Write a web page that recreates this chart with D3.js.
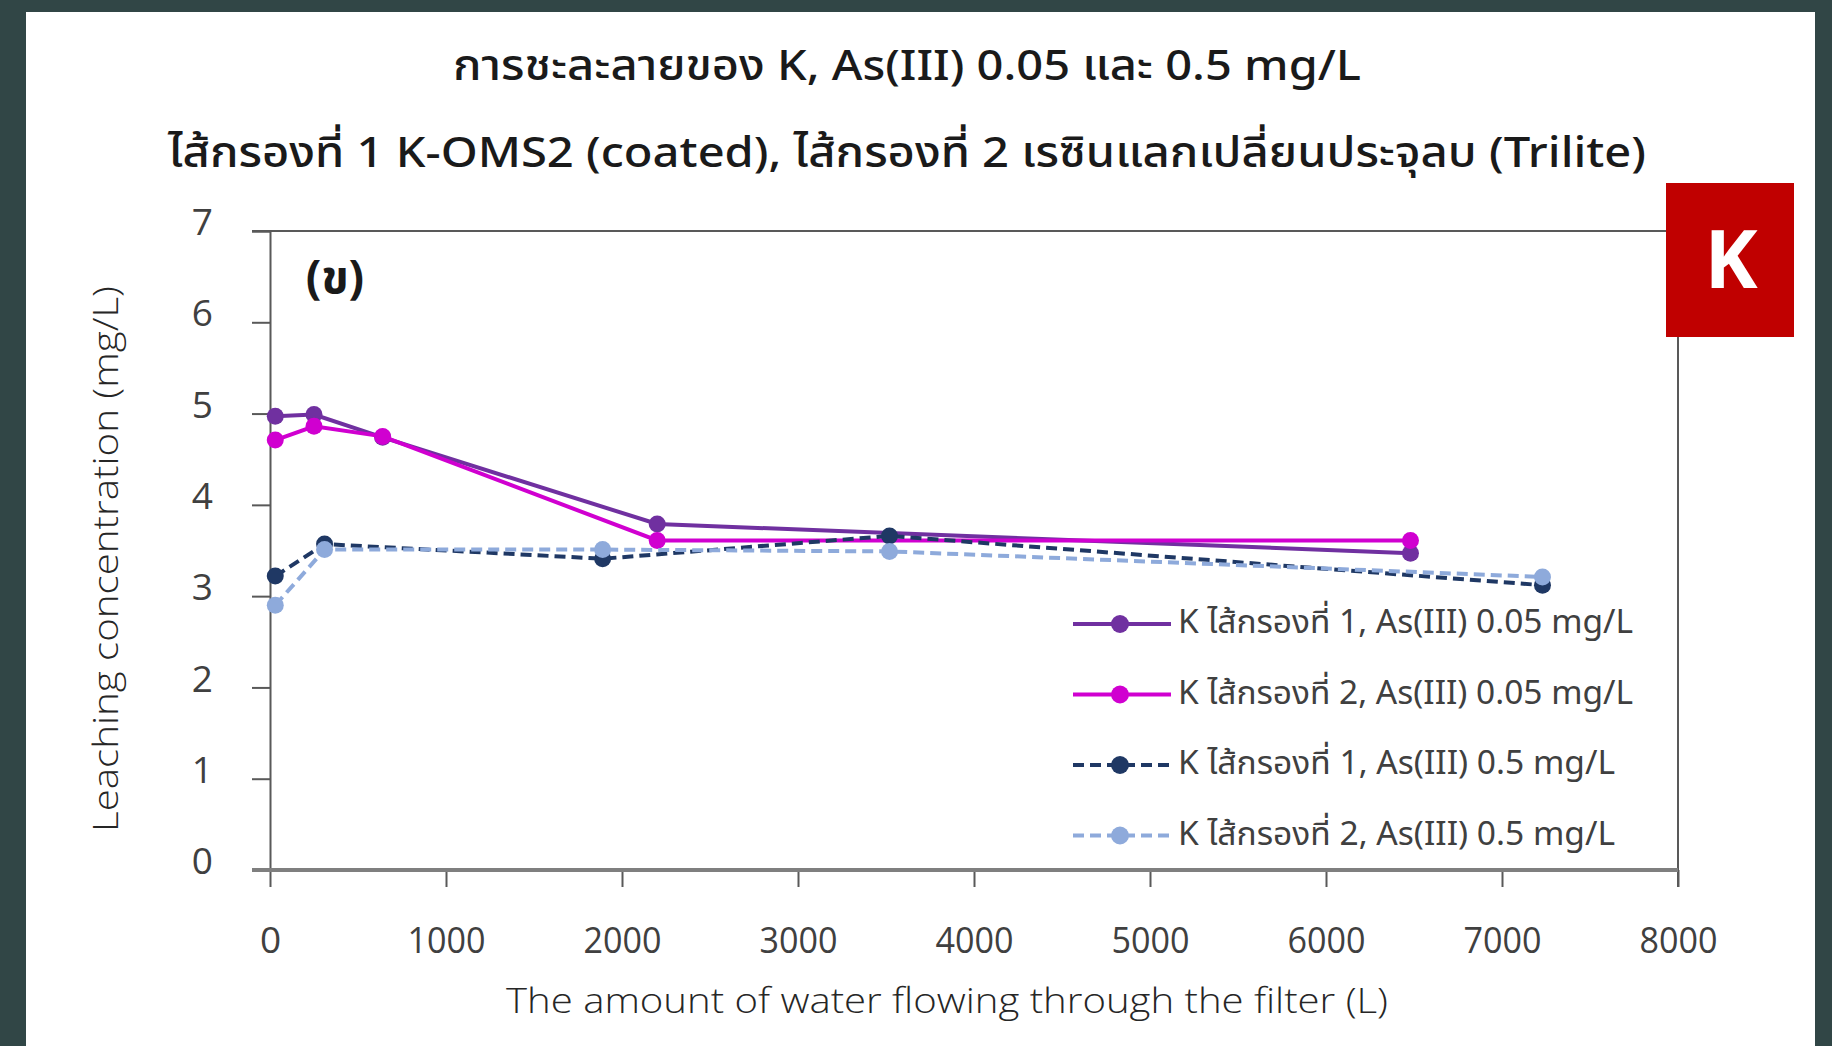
<!DOCTYPE html>
<meta charset="utf-8">
<head>
    <script src="https://d3js.org/d3.v7.min.js"></script>
</head>
<style>
    html, body { margin: 0; padding: 0; background: #314646; }
    svg { display: block; }
    .thai { font-family: "Noto Sans Thai", "Leelawadee UI", "Noto Sans", "DejaVu Sans", sans-serif; }
</style>
<body>
<script>
    'use strict';

    // K leaching, filter 1 / filter 2, As(III) 0.05 and 0.5 mg/L
    const waterLow = [30, 250, 640, 2200, 6480];      // L, As(III) 0.05 runs
    const waterHigh = [30, 310, 1890, 3520, 7230];    // L, As(III) 0.5 runs
    const kFilter1Low = [4.97, 4.99, 4.74, 3.79, 3.47];
    const kFilter2Low = [4.71, 4.86, 4.75, 3.61, 3.61];
    const kFilter1High = [3.22, 3.57, 3.41, 3.66, 3.12];
    const kFilter2High = [2.90, 3.51, 3.51, 3.49, 3.21];

    const seriesNames = [
        "K ไส้กรองที่ 1, As(III) 0.05 mg/L",
        "K ไส้กรองที่ 2, As(III) 0.05 mg/L",
        "K ไส้กรองที่ 1, As(III) 0.5 mg/L",
        "K ไส้กรองที่ 2, As(III) 0.5 mg/L"
    ];
    const xTicks = [0, 1000, 2000, 3000, 4000, 5000, 6000, 7000, 8000];
    const yTicks = [0, 1, 2, 3, 4, 5, 6, 7];

    const titleLines = [
        "การชะละลายของ K, As(III) 0.05 และ 0.5 mg/L",
        "ไส้กรองที่ 1 K-OMS2 (coated), ไส้กรองที่ 2 เรซินแลกเปลี่ยนประจุลบ (Trilite)"
    ];

    const series = [
        { name: seriesNames[0], xs: waterLow, ys: kFilter1Low, color: "#7030a0", dash: null },
        { name: seriesNames[1], xs: waterLow, ys: kFilter2Low, color: "#d000d0", dash: null },
        { name: seriesNames[2], xs: waterHigh, ys: kFilter1High, color: "#1f3864", dash: "11,6" },
        { name: seriesNames[3], xs: waterHigh, ys: kFilter2High, color: "#8eaadb", dash: "11,6" }
    ];

    const W = 1832, H = 1046;
    const svg = d3.select("body").append("svg").attr("width", W).attr("height", H);

    // white slide panel
    svg.append("rect").attr("x", 26).attr("y", 12).attr("width", 1789).attr("height", H - 12).attr("fill", "#fff");

    const x = d3.scaleLinear().domain([0, 8000]).range([270, 1678]);
    const y = d3.scaleLinear().domain([0, 7]).range([870, 231]);

    // titles
    svg.selectAll(".title").data(titleLines).enter().append("text")
        .attr("class", "thai")
        .attr("x", 907).attr("y", (d, i) => i === 0 ? 80 : 167)
        .attr("text-anchor", "middle")
        .attr("font-size", 42).attr("font-weight", 500)
        .attr("fill", "#1a1a1a")
        .attr("textLength", (d, i) => i === 0 ? 908 : 1478)
        .attr("lengthAdjust", "spacingAndGlyphs")
        .text(d => d);

    // frame top + right
    svg.append("line").attr("x1", 252).attr("x2", x(8000)).attr("y1", y(7)).attr("y2", y(7))
        .attr("stroke", "#595959").attr("stroke-width", 2);
    svg.append("line").attr("x1", x(8000)).attr("x2", x(8000)).attr("y1", y(7)).attr("y2", y(0) + 17)
        .attr("stroke", "#595959").attr("stroke-width", 2);

    // y axis
    const yAxis = svg.append("g").attr("transform", `translate(${x(0)},0)`)
        .call(d3.axisLeft(y).tickValues(yTicks).tickSize(18).tickPadding(39).tickFormat(d3.format("d")));
    yAxis.select(".domain").attr("stroke", "#595959").attr("stroke-width", 2);
    yAxis.selectAll(".tick line").attr("stroke", "#595959").attr("stroke-width", 2);
    yAxis.selectAll(".tick text").attr("font-family", "'Open Sans', sans-serif")
        .attr("font-size", 37).attr("fill", "#404040").attr("dy", "0.1em");

    // x axis
    const xAxis = svg.append("g").attr("transform", `translate(0,${y(0)})`)
        .call(d3.axisBottom(x).tickValues(xTicks).tickSize(17).tickPadding(40).tickFormat(d3.format("d")));
    xAxis.select(".domain").attr("stroke", "none");
    xAxis.selectAll(".tick line").attr("stroke", "#595959").attr("stroke-width", 2);
    xAxis.selectAll(".tick text").attr("font-family", "'Open Sans', sans-serif")
        .attr("font-size", 37).attr("fill", "#404040").attr("textLength", (d) => d === 0 ? null : 78)
        .attr("lengthAdjust", "spacingAndGlyphs");
    svg.append("line").attr("x1", 252).attr("x2", x(8000)).attr("y1", y(0)).attr("y2", y(0))
        .attr("stroke", "#7f7f7f").attr("stroke-width", 4);

    // axis titles
    svg.append("text")
        .attr("transform", `translate(118,559) rotate(-90)`)
        .attr("text-anchor", "middle")
        .attr("font-family", "'Open Sans', sans-serif").attr("font-weight", 300)
        .attr("font-size", 34).attr("fill", "#262626")
        .attr("textLength", 546).attr("lengthAdjust", "spacingAndGlyphs")
        .text("Leaching concentration (mg/L)");
    svg.append("text")
        .attr("x", 947).attr("y", 1013)
        .attr("text-anchor", "middle")
        .attr("font-family", "'Open Sans', sans-serif").attr("font-weight", 300)
        .attr("font-size", 34).attr("fill", "#262626")
        .attr("textLength", 882).attr("lengthAdjust", "spacingAndGlyphs")
        .text("The amount of water flowing through the filter (L)");

    // panel label
    svg.append("text").attr("class", "thai")
        .attr("x", 335).attr("y", 293).attr("text-anchor", "middle")
        .attr("font-size", 46).attr("font-weight", 700).attr("fill", "#1a1a1a")
        .text("(ข)");

    // series
    const line = d3.line().x(d => x(d[0])).y(d => y(d[1]));
    series.forEach(s => {
        const pts = s.xs.map((v, i) => [v, s.ys[i]]);
        const g = svg.append("g");
        g.append("path").datum(pts).attr("d", line)
            .attr("fill", "none").attr("stroke", s.color).attr("stroke-width", 4)
            .attr("stroke-dasharray", s.dash);
        g.selectAll("circle").data(pts).enter().append("circle")
            .attr("cx", d => x(d[0])).attr("cy", d => y(d[1])).attr("r", 8.5)
            .attr("fill", s.color);
    });

    // legend
    const legend = svg.append("g").attr("transform", "translate(1073,624)");
    const li = legend.selectAll("g").data(series).enter().append("g")
        .attr("transform", (d, i) => `translate(0,${i * 70.5})`);
    li.append("line").attr("x1", 0).attr("x2", 98).attr("y1", 0).attr("y2", 0)
        .attr("stroke", d => d.color).attr("stroke-width", 4).attr("stroke-dasharray", d => d.dash);
    li.append("circle").attr("cx", 47).attr("cy", 0).attr("r", 9).attr("fill", d => d.color);
    li.append("text").attr("class", "thai")
        .attr("x", 105).attr("y", 9)
        .attr("font-size", 32).attr("fill", "#404040")
        .attr("textLength", (d, i) => i < 2 ? 455 : 437).attr("lengthAdjust", "spacingAndGlyphs")
        .text(d => d.name);

    // red K badge
    svg.append("rect").attr("x", 1666).attr("y", 183).attr("width", 128).attr("height", 154).attr("fill", "#c00000");
    svg.append("text").attr("x", 1731).attr("y", 288).attr("text-anchor", "middle")
        .attr("font-family", "'Open Sans', sans-serif").attr("font-weight", 700)
        .attr("font-size", 80).attr("fill", "#fff").text("K");
</script>
</body>
